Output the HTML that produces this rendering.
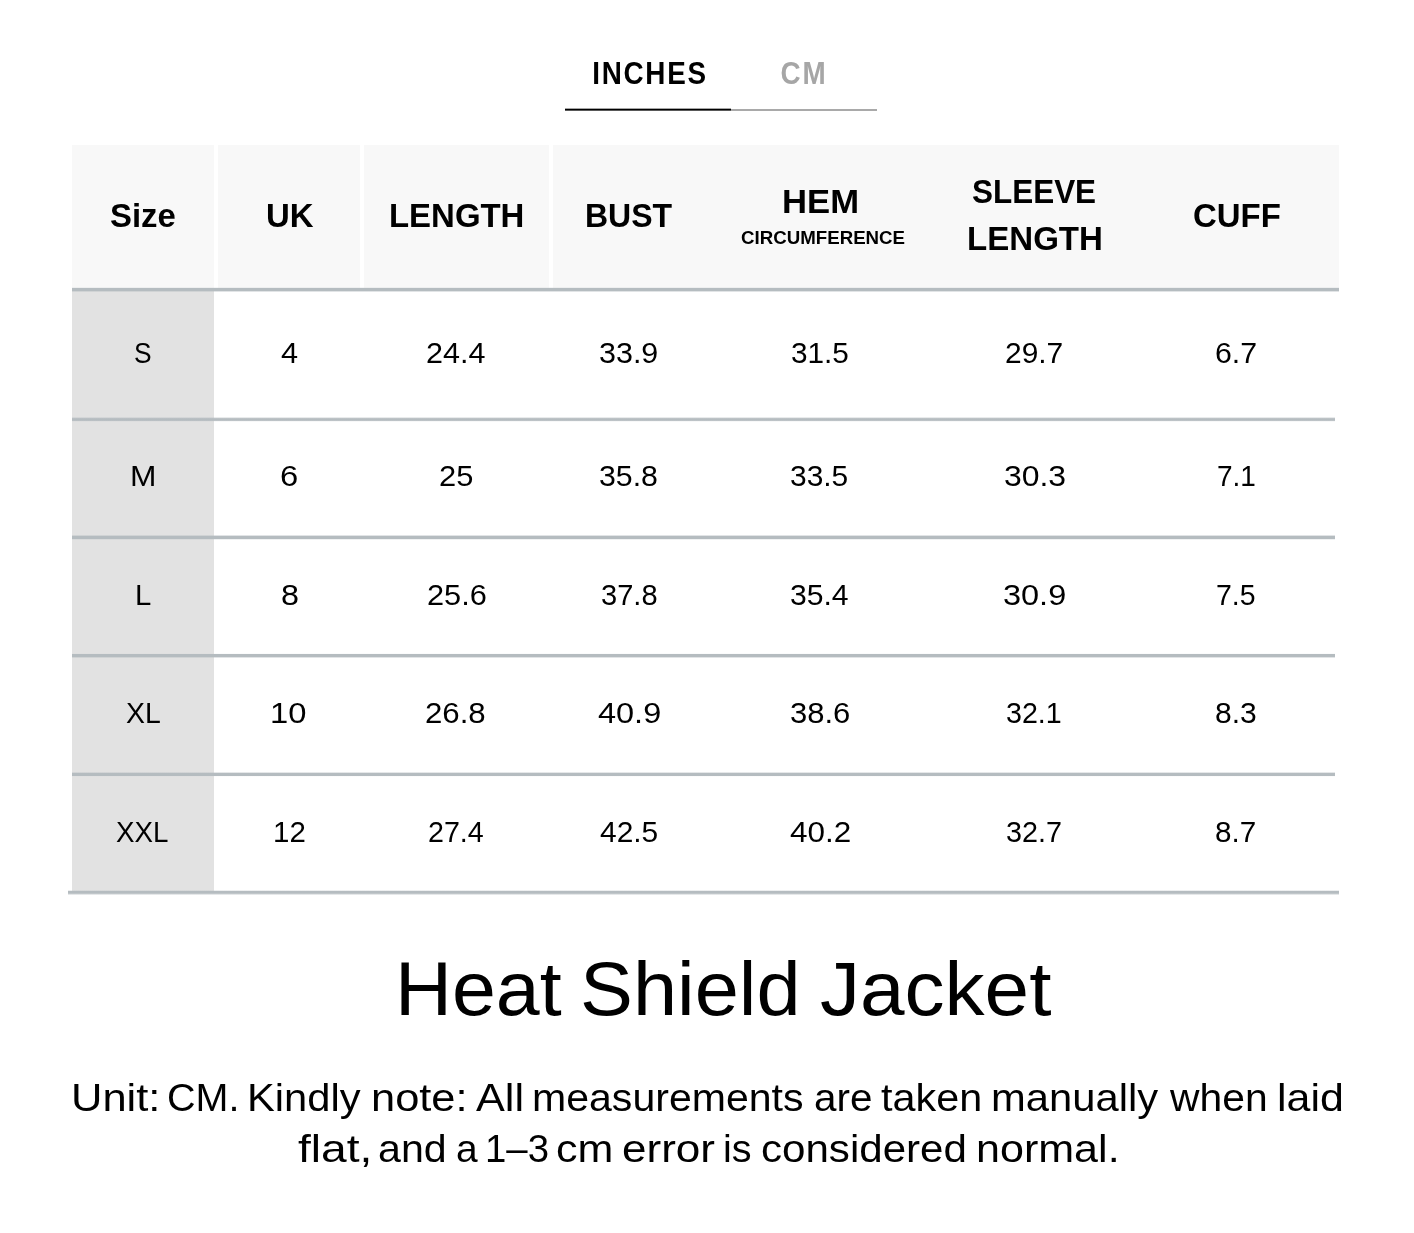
<!DOCTYPE html>
<html>
<head>
<meta charset="utf-8">
<style>
html,body{margin:0;padding:0;background:#fff;}
body{width:1414px;height:1233px;position:relative;overflow:hidden;will-change:transform;font-family:"Liberation Sans",sans-serif;color:#000;}
.a{position:absolute;}
.t{position:absolute;white-space:nowrap;line-height:1;transform:translateX(-50%);}
.w{position:absolute;white-space:nowrap;line-height:1;transform-origin:0 0;}
.hb{font-weight:bold;font-size:33px;}
.bd{font-size:29px;}
</style>
</head>
<body>
<div class="t" style="left:650.2px;top:57px;font-size:32px;font-weight:bold;letter-spacing:2px;transform:translateX(-50%) scaleX(0.87);">INCHES</div>
<div class="t" style="left:803.9px;top:57px;font-size:32px;font-weight:bold;letter-spacing:2px;color:#a6a6a6;transform:translateX(-50%) scaleX(0.87);">CM</div>
<div class="a" style="left:565px;top:108px;width:166px;height:3px;background:linear-gradient(rgba(0,0,0,.35) 0 1px,#000 1px 2px,rgba(0,0,0,.65) 2px 3px);"></div>
<div class="a" style="left:731px;top:109px;width:146px;height:2px;background:#a9a9a9;"></div>

<div class="a" style="left:72px;top:145px;width:1267px;height:143px;background:#f8f8f8;"></div>
<div class="a" style="left:214px;top:145px;width:4px;height:143px;background:#fff;"></div>
<div class="a" style="left:360px;top:145px;width:4px;height:143px;background:#fff;"></div>
<div class="a" style="left:549px;top:145px;width:4px;height:143px;background:#fff;"></div>

<div class="a" style="left:72px;top:291px;width:142px;height:600px;background:#e2e2e2;"></div>
<div class="a" style="left:72px;top:287px;width:1267px;height:5px;background:linear-gradient(rgba(181,188,192,0.15) 0px 1px,rgba(181,188,192,1) 1px 2px,rgba(181,188,192,1) 2px 3px,rgba(181,188,192,1) 3px 4px,rgba(181,188,192,0.4) 4px 5px);"></div>
<div class="a" style="left:72px;top:417px;width:1263px;height:5px;background:linear-gradient(rgba(181,188,192,0.3) 0px 1px,rgba(181,188,192,0.9) 1px 2px,rgba(181,188,192,1) 2px 3px,rgba(181,188,192,0.9) 3px 4px,rgba(181,188,192,0.1) 4px 5px);"></div>
<div class="a" style="left:72px;top:535px;width:1263px;height:5px;background:linear-gradient(rgba(181,188,192,0.4) 0px 1px,rgba(181,188,192,1) 1px 2px,rgba(181,188,192,1) 2px 3px,rgba(181,188,192,1) 3px 4px,rgba(181,188,192,0.2) 4px 5px);"></div>
<div class="a" style="left:72px;top:653px;width:1263px;height:5px;background:linear-gradient(rgba(181,188,192,0.05) 0px 1px,rgba(181,188,192,1) 1px 2px,rgba(181,188,192,1) 2px 3px,rgba(181,188,192,1) 3px 4px,rgba(181,188,192,0.4) 4px 5px);"></div>
<div class="a" style="left:72px;top:772px;width:1263px;height:5px;background:linear-gradient(rgba(181,188,192,0.35) 0px 1px,rgba(181,188,192,1) 1px 2px,rgba(181,188,192,1) 2px 3px,rgba(181,188,192,1) 3px 4px,rgba(181,188,192,0.05) 4px 5px);"></div>
<div class="a" style="left:68px;top:890px;width:1271px;height:5px;background:linear-gradient(rgba(181,188,192,0.25) 0px 1px,rgba(181,188,192,1) 1px 2px,rgba(181,188,192,1) 2px 3px,rgba(181,188,192,0.85) 3px 4px,rgba(181,188,192,0.35) 4px 5px);"></div>





<span id="w0" class="w" style="left:394.77px;top:951.80px;font-size:75.3px;transform:scaleX(1.0478);font-weight:normal;">Heat</span>
<span id="w1" class="w" style="left:580.35px;top:951.80px;font-size:75.3px;transform:scaleX(1.0541);font-weight:normal;">Shield</span>
<span id="w2" class="w" style="left:820.03px;top:951.80px;font-size:75.3px;transform:scaleX(1.0633);font-weight:normal;">Jacket</span>
<span id="w3" class="w" style="left:70.79px;top:1079.00px;font-size:38.5px;transform:scaleX(1.1296);font-weight:normal;">Unit:</span>
<span id="w4" class="w" style="left:167.34px;top:1079.00px;font-size:38.5px;transform:scaleX(1.0261);font-weight:normal;">CM.</span>
<span id="w5" class="w" style="left:247.29px;top:1079.00px;font-size:38.5px;transform:scaleX(1.0830);font-weight:normal;">Kindly</span>
<span id="w6" class="w" style="left:371.39px;top:1079.00px;font-size:38.5px;transform:scaleX(1.1279);font-weight:normal;">note:</span>
<span id="w7" class="w" style="left:475.90px;top:1079.00px;font-size:38.5px;transform:scaleX(1.1231);font-weight:normal;">All</span>
<span id="w8" class="w" style="left:531.75px;top:1079.00px;font-size:38.5px;transform:scaleX(1.0664);font-weight:normal;">measurements</span>
<span id="w9" class="w" style="left:813.56px;top:1079.00px;font-size:38.5px;transform:scaleX(1.0512);font-weight:normal;">are</span>
<span id="w10" class="w" style="left:881.33px;top:1079.00px;font-size:38.5px;transform:scaleX(1.0743);font-weight:normal;">taken</span>
<span id="w11" class="w" style="left:991.01px;top:1079.00px;font-size:38.5px;transform:scaleX(1.0844);font-weight:normal;">manually</span>
<span id="w12" class="w" style="left:1169.62px;top:1079.00px;font-size:38.5px;transform:scaleX(1.0607);font-weight:normal;">when</span>
<span id="w13" class="w" style="left:1276.71px;top:1079.00px;font-size:38.5px;transform:scaleX(1.1156);font-weight:normal;">laid</span>
<span id="w14" class="w" style="left:297.61px;top:1130.00px;font-size:38.5px;transform:scaleX(1.1992);font-weight:normal;">flat,</span>
<span id="w15" class="w" style="left:377.92px;top:1130.00px;font-size:38.5px;transform:scaleX(1.0697);font-weight:normal;">and</span>
<span id="w16" class="w" style="left:456.19px;top:1130.00px;font-size:38.5px;transform:scaleX(1.0118);font-weight:normal;">a</span>
<span id="w17" class="w" style="left:485.12px;top:1130.00px;font-size:38.5px;transform:scaleX(0.9959);font-weight:normal;">1–3</span>
<span id="w18" class="w" style="left:555.71px;top:1130.00px;font-size:38.5px;transform:scaleX(1.1167);font-weight:normal;">cm</span>
<span id="w19" class="w" style="left:622.05px;top:1130.00px;font-size:38.5px;transform:scaleX(1.1443);font-weight:normal;">error</span>
<span id="w20" class="w" style="left:723.26px;top:1130.00px;font-size:38.5px;transform:scaleX(1.0281);font-weight:normal;">is</span>
<span id="w21" class="w" style="left:761.42px;top:1130.00px;font-size:38.5px;transform:scaleX(1.0933);font-weight:normal;">considered</span>
<span id="w22" class="w" style="left:975.67px;top:1130.00px;font-size:38.5px;transform:scaleX(1.1186);font-weight:normal;">normal.</span>
<span id="w23" class="w" style="left:134.38px;top:338.50px;font-size:29px;transform:scaleX(0.9081);font-weight:normal;">S</span>
<span id="w24" class="w" style="left:281.06px;top:338.50px;font-size:29px;transform:scaleX(1.0576);font-weight:normal;">4</span>
<span id="w25" class="w" style="left:426.03px;top:338.50px;font-size:29px;transform:scaleX(1.0513);font-weight:normal;">24.4</span>
<span id="w26" class="w" style="left:599.29px;top:338.50px;font-size:29px;transform:scaleX(1.0511);font-weight:normal;">33.9</span>
<span id="w27" class="w" style="left:791.35px;top:338.50px;font-size:29px;transform:scaleX(1.0262);font-weight:normal;">31.5</span>
<span id="w28" class="w" style="left:1004.96px;top:338.50px;font-size:29px;transform:scaleX(1.0322);font-weight:normal;">29.7</span>
<span id="w29" class="w" style="left:1215.21px;top:338.50px;font-size:29px;transform:scaleX(1.0446);font-weight:normal;">6.7</span>
<span id="w30" class="w" style="left:130.31px;top:461.50px;font-size:29px;transform:scaleX(1.0933);font-weight:normal;">M</span>
<span id="w31" class="w" style="left:280.34px;top:461.50px;font-size:29px;transform:scaleX(1.1288);font-weight:normal;">6</span>
<span id="w32" class="w" style="left:439.12px;top:461.50px;font-size:29px;transform:scaleX(1.0649);font-weight:normal;">25</span>
<span id="w33" class="w" style="left:599.36px;top:461.50px;font-size:29px;transform:scaleX(1.0445);font-weight:normal;">35.8</span>
<span id="w34" class="w" style="left:790.25px;top:461.50px;font-size:29px;transform:scaleX(1.0318);font-weight:normal;">33.5</span>
<span id="w35" class="w" style="left:1003.57px;top:461.50px;font-size:29px;transform:scaleX(1.1004);font-weight:normal;">30.3</span>
<span id="w36" class="w" style="left:1217.32px;top:461.50px;font-size:29px;transform:scaleX(0.9647);font-weight:normal;">7.1</span>
<span id="w37" class="w" style="left:135.22px;top:581.00px;font-size:29px;transform:scaleX(1.0112);font-weight:normal;">L</span>
<span id="w38" class="w" style="left:280.58px;top:581.00px;font-size:29px;transform:scaleX(1.1153);font-weight:normal;">8</span>
<span id="w39" class="w" style="left:426.80px;top:581.00px;font-size:29px;transform:scaleX(1.0595);font-weight:normal;">25.6</span>
<span id="w40" class="w" style="left:600.51px;top:581.00px;font-size:29px;transform:scaleX(1.0024);font-weight:normal;">37.8</span>
<span id="w41" class="w" style="left:790.18px;top:581.00px;font-size:29px;transform:scaleX(1.0386);font-weight:normal;">35.4</span>
<span id="w42" class="w" style="left:1002.66px;top:581.00px;font-size:29px;transform:scaleX(1.1199);font-weight:normal;">30.9</span>
<span id="w43" class="w" style="left:1216.18px;top:581.00px;font-size:29px;transform:scaleX(0.9817);font-weight:normal;">7.5</span>
<span id="w44" class="w" style="left:125.90px;top:698.50px;font-size:29px;transform:scaleX(0.9789);font-weight:normal;">XL</span>
<span id="w45" class="w" style="left:269.77px;top:698.50px;font-size:29px;transform:scaleX(1.1278);font-weight:normal;">10</span>
<span id="w46" class="w" style="left:425.49px;top:698.50px;font-size:29px;transform:scaleX(1.0758);font-weight:normal;">26.8</span>
<span id="w47" class="w" style="left:598.12px;top:698.50px;font-size:29px;transform:scaleX(1.1197);font-weight:normal;">40.9</span>
<span id="w48" class="w" style="left:790.25px;top:698.50px;font-size:29px;transform:scaleX(1.0680);font-weight:normal;">38.6</span>
<span id="w49" class="w" style="left:1006.05px;top:698.50px;font-size:29px;transform:scaleX(0.9869);font-weight:normal;">32.1</span>
<span id="w50" class="w" style="left:1215.18px;top:698.50px;font-size:29px;transform:scaleX(1.0366);font-weight:normal;">8.3</span>
<span id="w51" class="w" style="left:116.27px;top:817.50px;font-size:29px;transform:scaleX(0.9558);font-weight:normal;">XXL</span>
<span id="w52" class="w" style="left:272.69px;top:817.50px;font-size:29px;transform:scaleX(1.0156);font-weight:normal;">12</span>
<span id="w53" class="w" style="left:428.42px;top:817.50px;font-size:29px;transform:scaleX(0.9877);font-weight:normal;">27.4</span>
<span id="w54" class="w" style="left:599.74px;top:817.50px;font-size:29px;transform:scaleX(1.0318);font-weight:normal;">42.5</span>
<span id="w55" class="w" style="left:790.05px;top:817.50px;font-size:29px;transform:scaleX(1.0840);font-weight:normal;">40.2</span>
<span id="w56" class="w" style="left:1006.05px;top:817.50px;font-size:29px;transform:scaleX(0.9916);font-weight:normal;">32.7</span>
<span id="w57" class="w" style="left:1215.46px;top:817.50px;font-size:29px;transform:scaleX(1.0212);font-weight:normal;">8.7</span>
<span id="w58" class="w" style="left:109.60px;top:199.00px;font-size:33px;transform:scaleX(0.9975);font-weight:bold;">Size</span>
<span id="w59" class="w" style="left:266.11px;top:199.00px;font-size:33px;transform:scaleX(0.9984);font-weight:bold;">UK</span>
<span id="w60" class="w" style="left:389.00px;top:199.00px;font-size:33px;transform:scaleX(0.9982);font-weight:bold;">LENGTH</span>
<span id="w61" class="w" style="left:585.41px;top:199.00px;font-size:33px;transform:scaleX(0.9698);font-weight:bold;">BUST</span>
<span id="w62" class="w" style="left:782.18px;top:184.50px;font-size:33px;transform:scaleX(1.0502);font-weight:bold;">HEM</span>
<span id="w63" class="w" style="left:740.94px;top:228.00px;font-size:19px;transform:scaleX(0.9838);font-weight:bold;">CIRCUMFERENCE</span>
<span id="w64" class="w" style="left:972.02px;top:175.00px;font-size:33px;transform:scaleX(0.9530);font-weight:bold;">SLEEVE</span>
<span id="w65" class="w" style="left:966.96px;top:222.00px;font-size:33px;transform:scaleX(1.0019);font-weight:bold;">LENGTH</span>
<span id="w66" class="w" style="left:1192.86px;top:198.50px;font-size:33px;transform:scaleX(0.9982);font-weight:bold;">CUFF</span>
</body>
</html>
